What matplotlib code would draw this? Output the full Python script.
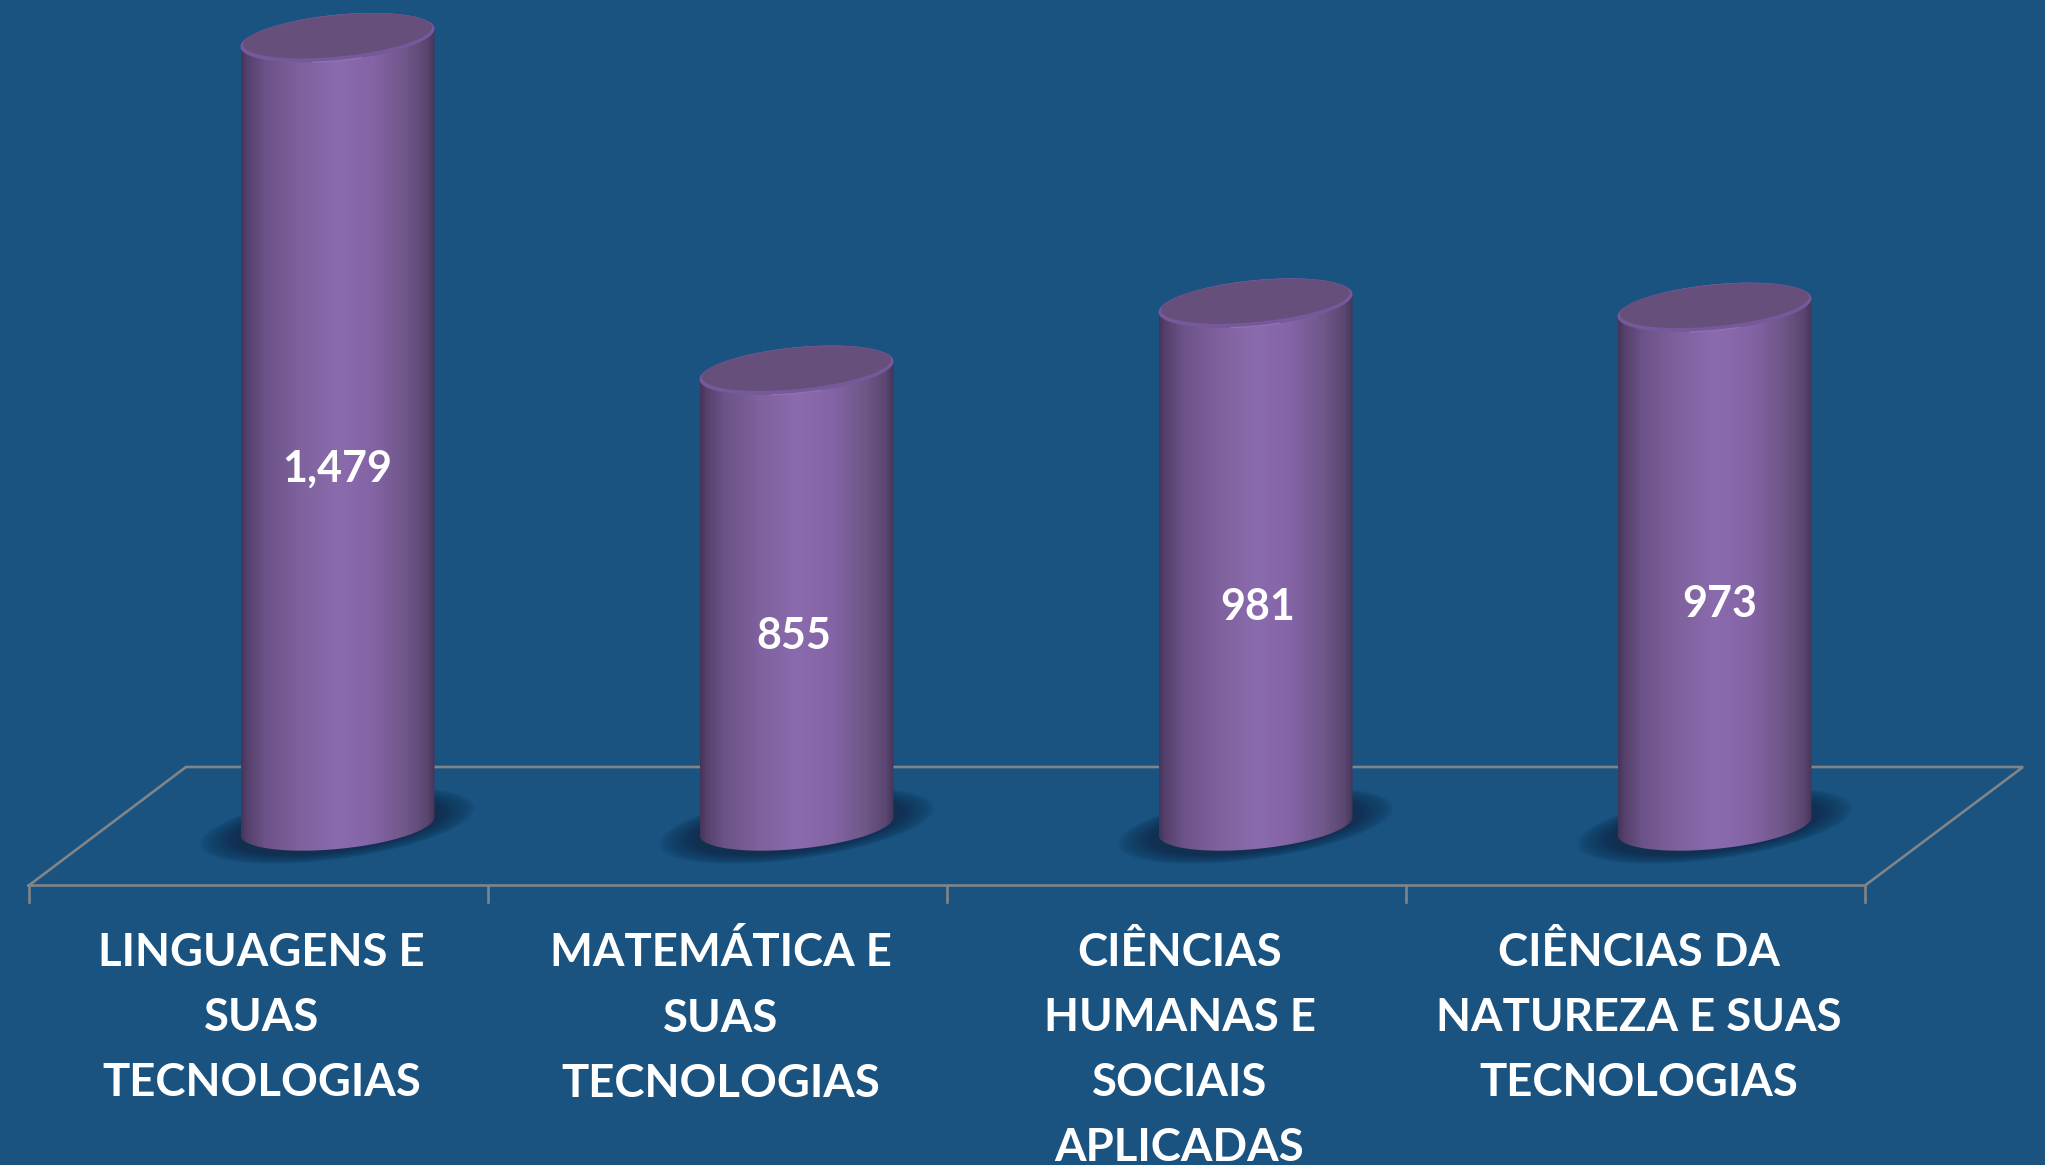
#!/usr/bin/env python3
"""Fake 3D cylinder chart: ENEM questions per knowledge area."""
import numpy as np
import matplotlib
matplotlib.use("Agg")
import matplotlib.pyplot as plt
from matplotlib.colors import LinearSegmentedColormap
from matplotlib.patches import Polygon

# --------------------- Data ---------------------
categories = [
    "LINGUAGENS E\nSUAS\nTECNOLOGIAS",
    "MATEMÁTICA E\nSUAS\nTECNOLOGIAS",
    "CIÊNCIAS\nHUMANAS E\nSOCIAIS\nAPLICADAS",
    "CIÊNCIAS DA\nNATUREZA E SUAS\nTECNOLOGIAS",
]
values = [1479, 855, 981, 973]
value_labels = ["1,479", "855", "981", "973"]

# --------------------- Style --------------------
BG = "#1a5280"
LINE = "#7f8588"
TOP_RIM = "#76599a"
TOP_FACE = "#674f7c"
SHADOW = "#11304e"
grad = LinearSegmentedColormap.from_list("cyl", [
    (0.00, "#46345a"), (0.03, "#54406b"), (0.12, "#6b5287"), (0.30, "#7f619d"),
    (0.50, "#8a6bad"), (0.68, "#8464a5"), (0.85, "#6f5789"), (0.96, "#5a4670"),
    (1.00, "#46355a"),
])

W, H = 2045, 1165
X0, DX = 337.5, 459.0      # pixel x of first cylinder, spacing
Y0, PX_PER_UNIT = 826.0, 0.533  # pixel y of value 0, scale
HALF_W = 97 / DX
DEPTH = 76 / DX            # labels sit this far left of the cylinders
SHEAR = 9.0 / PX_PER_UNIT
B_Y = 23.0 / PX_PER_UNIT

# label heights inside the cylinders, as value units
label_y = [670, 357, 410, 417]
label_dx = [0.0, -0.006, 0.004, 0.012]

plt.rcParams["font.family"] = ["Lato", "DejaVu Sans"]
fig = plt.figure(figsize=(W / 100, H / 100), dpi=100, facecolor=BG)
ax = fig.add_axes([0, 0, 1, 1], facecolor=BG)
ax.set_xlim(-X0 / DX, (W - X0) / DX)
ax.set_ylim((Y0 - H) / PX_PER_UNIT, Y0 / PX_PER_UNIT)
ax.axis("off")


def ellipse(cx, cy, hw=HALF_W, by=B_Y, shear=SHEAR, t=None):
    """Tilted ellipse outline; left side sits low, right side sits high."""
    if t is None:
        t = np.linspace(0, 2 * np.pi, 181)
    return np.column_stack([cx + hw * np.cos(t),
                            cy + shear * np.cos(t) + by * np.sin(t)])


# floor, in category units
n = len(categories)
fl, fr = -X0 / DX + 28.7 / DX, -X0 / DX + 1865 / DX
bl, br = -X0 / DX + 186 / DX, -X0 / DX + 2023 / DX
y_front = (Y0 - 885.5) / PX_PER_UNIT
y_back = (Y0 - 767) / PX_PER_UNIT
ax.plot([fl, bl, br, fr, fl], [y_front, y_back, y_back, y_front, y_front],
        color=LINE, lw=1.9, solid_joinstyle="miter", zorder=1)
tick_low = (Y0 - 902) / PX_PER_UNIT
for k in range(n + 1):
    x = fl + k * (fr - fl) / n
    ax.plot([x, x], [y_front, tick_low], color=LINE, lw=1.9, zorder=1)

gradient = np.linspace(0, 1, 256).reshape(1, -1)
for i, v in enumerate(values):
    # soft shadow under the cylinder
    for s in np.linspace(1.0, 0.62, 50):
        ax.add_patch(Polygon(ellipse(i, 0, HALF_W * 1.42 * s, B_Y * 1.45 * s, SHEAR * 2.0 * s),
                             closed=True, fc=SHADOW, ec="none", alpha=0.034, zorder=2))

    # body: straight sides, front half of the base and the top ellipse
    base = ellipse(i, 0, t=np.linspace(np.pi, 2 * np.pi, 91))
    top = ellipse(i, v, t=np.linspace(0, np.pi, 91))
    body = Polygon(np.vstack([base, top]), closed=True, fc="none", ec="none", zorder=3)
    ax.add_patch(body)
    im = ax.imshow(gradient, cmap=grad, aspect="auto", zorder=3, interpolation="bilinear",
                   extent=[i - HALF_W, i + HALF_W, -B_Y * 1.2, v + B_Y * 1.2])
    im.set_clip_path(body)

    # top face with its lighter rim
    ax.add_patch(Polygon(ellipse(i, v), closed=True, fc=TOP_RIM, ec="none", zorder=4))
    ax.add_patch(Polygon(ellipse(i, v + 1.8 / PX_PER_UNIT, HALF_W * 0.975, B_Y * 0.9, SHEAR * 0.97),
                         closed=True, fc=TOP_FACE, ec="none", zorder=5))
    highlight = ellipse(i, v, t=np.linspace(1.42 * np.pi, 1.58 * np.pi, 30))
    ax.plot(highlight[:, 0], highlight[:, 1], color="#9173b3", lw=0.9, zorder=6)

    ax.text(i + label_dx[i], label_y[i], value_labels[i], color="white", fontsize=31,
            fontweight="bold", ha="center", va="center", zorder=7)

    ax.text(i - DEPTH, (Y0 - 931.5) / PX_PER_UNIT, categories[i], color="white", fontsize=32.8,
            fontweight="bold", ha="center", va="top", linespacing=1.68, zorder=7)

ax.set_xlim(-X0 / DX, (W - X0) / DX)
ax.set_ylim((Y0 - H) / PX_PER_UNIT, Y0 / PX_PER_UNIT)
fig.savefig("out.png", dpi=100, facecolor=BG)
